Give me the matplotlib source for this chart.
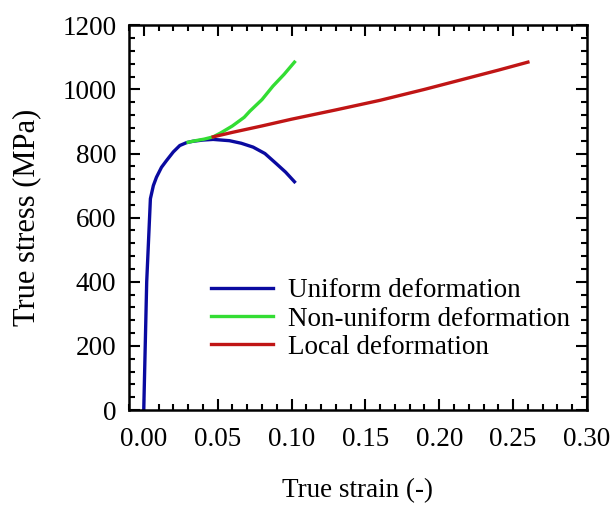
import matplotlib
matplotlib.use("Agg")
import matplotlib.pyplot as plt
from matplotlib.ticker import MultipleLocator

plt.rcParams['font.family'] = ['Liberation Serif', 'DejaVu Serif']

# data
uniform_strain = [0, 0.002, 0.0045, 0.0065, 0.0086, 0.012, 0.0154, 0.02, 0.0244, 0.029,
                  0.033, 0.04, 0.047, 0.058, 0.066, 0.074, 0.082, 0.0898, 0.096, 0.102]
uniform_stress = [0, 400, 659, 700, 726, 757, 778, 805, 825, 834,
                  838, 842, 844, 840, 832, 820, 800, 768, 742, 712]

nonuni_strain = [0.03, 0.035, 0.041, 0.047, 0.052, 0.06, 0.068, 0.0718, 0.08, 0.0874, 0.095, 0.102]
nonuni_stress = [835, 840, 845, 852, 864, 886, 913, 932, 968, 1010, 1047, 1085]

local_strain = [0.047, 0.06, 0.08, 0.10, 0.13, 0.16, 0.19, 0.22, 0.24, 0.26]
local_stress = [852, 866, 886, 907, 936, 966, 1000, 1036, 1060, 1085]

fig = plt.figure(figsize=(6.13, 5.05), dpi=100)
ax = fig.add_axes([0.2104, 0.188, 0.7472, 0.762])

ax.plot(uniform_strain, uniform_stress, color='#0a0aa0', lw=2.4, label='Uniform deformation')
ax.plot(nonuni_strain, nonuni_stress, color='#33dd33', lw=2.4, label='Non-uniform deformation')
ax.plot(local_strain, local_stress, color='#c01515', lw=2.4, label='Local deformation')

ax.set_xlim(-0.01, 0.30)
ax.set_ylim(0, 1200)
ax.xaxis.set_major_locator(MultipleLocator(0.05))
ax.xaxis.set_minor_locator(MultipleLocator(0.01))
ax.yaxis.set_major_locator(MultipleLocator(200))
ax.yaxis.set_minor_locator(MultipleLocator(40))
ax.xaxis.set_major_formatter(plt.FuncFormatter(lambda v, p: f"{v:.2f}"))
ax.tick_params(which='both', direction='in', top=True, right=True, width=1.5, labelsize=19.5)
ax.tick_params(axis='y', pad=9)
ax.tick_params(axis='x', pad=12)
ax.tick_params(which='major', length=8)
ax.tick_params(which='minor', length=4)
for s in ax.spines.values():
    s.set_linewidth(1.8)

ax.set_xlabel('True strain (-)', fontsize=19.5, labelpad=19)
ax.set_ylabel('True stress (MPa)', fontsize=22, labelpad=15)

ax.legend(loc='lower left', bbox_to_anchor=(0.149, 0.095), frameon=False, fontsize=19.5,
          handlelength=2.3, handletextpad=0.55, labelspacing=0.12, borderpad=0)

fig.savefig('out.png', dpi=100)
